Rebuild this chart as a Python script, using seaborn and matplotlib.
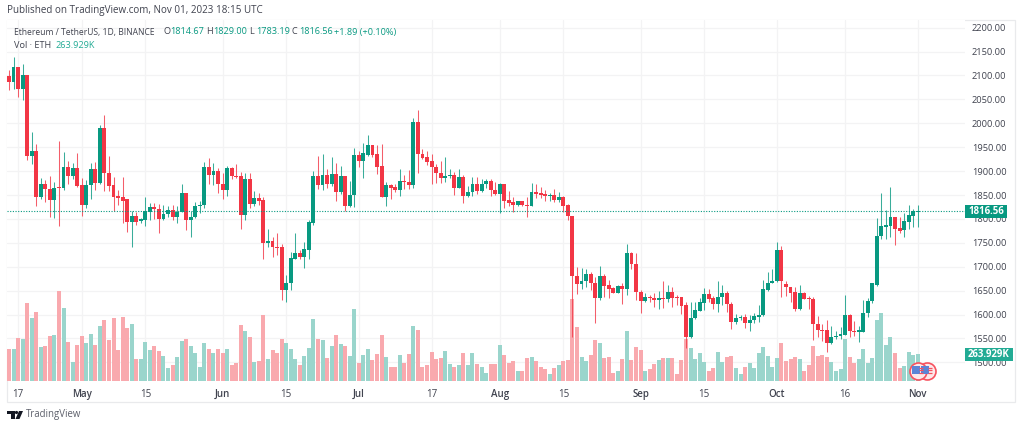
import pandas as pd
import matplotlib
matplotlib.use('Agg')
import matplotlib.pyplot as plt
import matplotlib.transforms as mtransforms
from matplotlib.patches import Rectangle, Polygon, Circle
import seaborn as sns

# ETH/USDT daily candles
opens = [2098,2087,2117,2072,2101,1932,1941,1846,1873,1862,
         1840,1866,1864,1908,1890,1906,1870,1829,1870,1904,
         1876,1991,1895,1870,1847,1846,1841,1793,1807,1796,
         1797,1815,1824,1821,1799,1810,1819,1805,1815,1854,
         1798,1805,1827,1830,1908,1892,1900,1873,1860,1906,
         1890,1889,1809,1884,1831,1844,1839,1750,1753,1742,
         1741,1651,1667,1717,1728,1720,1736,1791,1890,1871,
         1892,1873,1894,1857,1890,1826,1850,1934,1922,1934,
         1955,1936,1910,1845,1870,1866,1860,1880,1877,1871,
         2003,1936,1930,1921,1909,1897,1886,1890,1891,1864,
         1888,1848,1857,1872,1858,1872,1879,1860,1853,1873,
         1840,1835,1829,1837,1830,1828,1856,1854,1852,1847,
         1850,1839,1845,1829,1806,1681,1663,1670,1685,1667,
         1635,1681,1661,1655,1646,1660,1653,1729,1705,1647,
         1628,1637,1635,1631,1634,1633,1648,1637,1636,1619,
         1552,1592,1608,1625,1642,1634,1622,1637,1644,1623,
         1584,1592,1594,1582,1588,1595,1598,1651,1667,1670,
         1734,1663,1658,1647,1611,1646,1634,1633,1580,1568,
         1567,1540,1553,1555,1557,1599,1566,1564,1564,1604,
         1628,1662,1765,1784,1785,1803,1780,1776,1794,1807,
         1814.67]
closes = [2087,2117,2072,2101,1932,1941,1846,1873,1862,1840,
          1865,1864,1908,1890,1906,1869,1829,1870,1904,1876,
          1991,1895,1869,1846,1844,1838,1793,1807,1793,1799,
          1816,1824,1820,1799,1810,1819,1805,1815,1855,1798,
          1805,1827,1830,1908,1892,1900,1873,1860,1906,1890,
          1888,1809,1884,1831,1844,1838,1750,1753,1741,1739,
          1651,1667,1718,1728,1720,1737,1794,1890,1871,1892,
          1873,1894,1857,1890,1826,1851,1934,1922,1937,1955,
          1934,1908,1845,1870,1864,1860,1880,1877,1871,2003,
          1936,1928,1920,1909,1896,1886,1890,1891,1864,1887,
          1848,1857,1872,1858,1873,1879,1860,1853,1873,1838,
          1834,1829,1837,1829,1828,1856,1852,1851,1847,1850,
          1839,1845,1828,1806,1681,1663,1671,1685,1667,1635,
          1680,1660,1654,1646,1660,1653,1729,1705,1647,1628,
          1637,1635,1630,1634,1633,1648,1635,1635,1618,1554,
          1592,1610,1626,1642,1633,1622,1637,1644,1622,1584,
          1592,1594,1582,1589,1596,1599,1653,1667,1670,1734,
          1670,1657,1646,1611,1645,1633,1632,1580,1567,1566,
          1540,1553,1556,1559,1599,1566,1564,1567,1604,1629,
          1665,1765,1785,1787,1803,1779,1775,1796,1809,1817,
          1816.56]
highs = [2112,2139,2118,2124,2101,1982,1956,1886,1881,1890,
         1878,1963,1940,1922,1916,1938,1885,1881,1916,1918,
         1997,2017,1932,1888,1860,1888,1841,1817,1815,1801,
         1846,1834,1833,1831,1829,1827,1829,1827,1872,1855,
         1817,1836,1837,1919,1927,1916,1906,1895,1911,1909,
         1914,1899,1897,1897,1858,1855,1845,1778,1763,1770,
         1748,1683,1730,1770,1735,1752,1798,1901,1931,1936,
         1904,1929,1916,1911,1890,1879,1948,1943,1958,1975,
         1955,1955,1957,1878,1873,1872,1905,1892,1902,2010,
         2028,1946,1943,1935,1915,1921,1929,1905,1899,1905,
         1892,1869,1887,1887,1883,1883,1884,1877,1876,1874,
         1859,1845,1838,1838,1845,1876,1872,1866,1861,1855,
         1862,1856,1847,1831,1807,1699,1697,1695,1690,1679,
         1702,1684,1672,1657,1662,1665,1747,1731,1729,1651,
         1646,1641,1646,1649,1671,1662,1657,1641,1636,1627,
         1627,1627,1635,1655,1653,1639,1670,1662,1650,1627,
         1602,1599,1602,1598,1603,1620,1672,1688,1695,1752,
         1743,1670,1658,1658,1662,1648,1639,1637,1597,1580,
         1589,1576,1566,1574,1640,1601,1586,1575,1631,1634,
         1667,1801,1855,1819,1866,1805,1803,1813,1829,1820,
         1829.00]
lows = [2070,2072,2056,2049,1923,1915,1826,1842,1836,1805,
        1801,1785,1860,1873,1883,1866,1806,1823,1842,1860,
        1874,1859,1859,1817,1829,1792,1772,1741,1787,1791,
        1786,1798,1799,1771,1798,1805,1798,1792,1815,1777,
        1762,1801,1812,1822,1873,1871,1854,1842,1847,1883,
        1885,1779,1798,1822,1828,1829,1716,1741,1721,1725,
        1630,1627,1652,1716,1716,1698,1716,1788,1862,1860,
        1864,1869,1838,1853,1817,1824,1824,1908,1885,1932,
        1930,1894,1845,1826,1842,1856,1847,1863,1863,1864,
        1897,1925,1913,1873,1875,1876,1878,1885,1850,1864,
        1833,1846,1848,1853,1857,1864,1848,1851,1813,1822,
        1826,1815,1827,1827,1803,1826,1843,1843,1838,1838,
        1836,1835,1815,1798,1552,1643,1653,1658,1651,1582,
        1630,1637,1634,1644,1644,1623,1641,1695,1630,1604,
        1627,1627,1616,1611,1613,1627,1616,1620,1602,1530,
        1550,1591,1607,1610,1627,1611,1606,1620,1606,1570,
        1580,1588,1571,1566,1582,1584,1597,1650,1665,1669,
        1637,1639,1627,1608,1609,1632,1611,1547,1554,1545,
        1522,1538,1548,1549,1557,1552,1555,1543,1563,1594,
        1625,1660,1757,1759,1763,1745,1771,1763,1778,1783,
        1783.19]
# volume in thousands of ETH
volumes = [313,313,417,411,759,612,678,329,339,443,
           450,880,714,381,182,352,443,368,456,352,
           538,596,404,612,300,626,515,554,212,218,
           381,306,345,293,241,130,160,235,388,411,
           345,270,137,375,310,270,316,270,310,153,
           176,544,485,427,189,195,642,218,300,277,
           411,368,310,212,160,241,323,603,411,397,
           225,339,450,362,342,244,704,176,257,316,
           209,267,450,238,134,140,251,176,267,541,
           495,140,156,283,215,222,296,169,134,156,
           274,156,274,169,140,81,163,169,355,251,
           179,192,94,94,228,238,192,134,117,68,
           124,156,192,209,801,531,238,199,251,401,
           368,228,238,81,98,215,489,209,332,303,
           101,117,169,209,222,228,222,65,205,411,
           323,218,270,182,98,124,280,182,235,241,
           124,72,137,173,130,270,329,248,137,225,
           375,195,218,235,218,101,153,339,241,257,
           235,189,101,121,411,235,176,212,316,176,
           225,596,661,352,427,270,124,147,280,257,
           263.929]

start_date = '2023-04-15'
tick_dates = ['2023-04-17','2023-05-01','2023-05-15','2023-06-01','2023-06-15','2023-07-01','2023-07-17',
              '2023-08-01','2023-08-15','2023-09-01','2023-09-15','2023-10-01','2023-10-16','2023-11-01']
tick_labels = ['17','May','15','Jun','15','Jul','17','Aug','15','Sep','15','Oct','16','Nov']
price_ticks = [1500,1550,1600,1650,1700,1750,1800,1850,1900,1950,2000,2050,2100,2150,2200]
last_price = 1816.56

green = '#089981'
red = '#f23645'
text_col = '#40434f'

df = pd.DataFrame({'open': opens, 'high': highs, 'low': lows, 'close': closes, 'volume': volumes})
df['day'] = range(len(df))
df['direction'] = ['up' if c >= o else 'down' for o, c in zip(df['open'], df['close'])]
tick_pos = [(pd.Timestamp(d) - pd.Timestamp(start_date)).days for d in tick_dates]

sns.set_theme(style='white')
plt.rcParams['font.family'] = ['Open Sans', 'DejaVu Sans']

W, H = 1024, 429
fig = plt.figure(figsize=(W / 100, H / 100), dpi=100, facecolor='white')
# image pixel coordinates, y going down
px = mtransforms.Affine2D().scale(1, -1).translate(0, H)

pane = [7 / W, (H - 381) / H, (965 - 7) / W, (381 - 20) / H]
x_range = (-0.44, 210.4)
price_range = (1461, 2216)
vol_range = (0, 3529)

# grid and axis labels sit at the back
ax_grid = fig.add_axes(pane, zorder=1)
ax_grid.set_xlim(x_range)
ax_grid.set_ylim(price_range)
ax_grid.set_xticks(tick_pos)
ax_grid.set_xticklabels(tick_labels)
ax_grid.set_yticks(price_ticks)
ax_grid.set_yticklabels([f'{p:.2f}' for p in price_ticks])
ax_grid.yaxis.tick_right()
ax_grid.tick_params(axis='x', length=0, pad=5.5, labelsize=7, labelcolor=text_col)
ax_grid.tick_params(axis='y', length=0, pad=5, labelsize=6.7, labelcolor=text_col)
for lab in ax_grid.get_xticklabels():
    if not lab.get_text().isdigit():
        lab.set_fontweight(600)
ax_grid.grid(True, color='#f3f3f4', linewidth=0.9)
for s in ax_grid.spines.values():
    s.set_visible(False)
ax_grid.set_axisbelow(True)

# volume bars
ax_vol = fig.add_axes(pane, zorder=2)
ax_vol.patch.set_visible(False)
sns.barplot(data=df, x='day', y='volume', hue='direction', native_scale=True, dodge=False,
            palette={'up': '#9ad5cc', 'down': '#f9a9ae'}, saturation=1, width=0.88,
            errorbar=None, legend=False, ax=ax_vol)
for bar in ax_vol.patches:
    bar.set_linewidth(0)
ax_vol.set_xlim(x_range)
ax_vol.set_ylim(vol_range)
ax_vol.axis('off')

# candles on top
ax = fig.add_axes(pane, zorder=3)
ax.patch.set_visible(False)
ax.set_xlim(x_range)
ax.set_ylim(price_range)
ax.axis('off')
colors = [green if d == 'up' else red for d in df['direction']]
ax.vlines(df['day'], df['low'], df['high'], colors=colors, linewidth=0.75, alpha=0.8)
ax.bar(df['day'], (df['close'] - df['open']).abs().clip(lower=1.5),
       bottom=df[['open', 'close']].min(axis=1), width=0.86, color=colors, linewidth=0)
ax.axhline(last_price, color=green, linewidth=0.8, linestyle=(0, (1, 1.4)))

# event markers at the right end
for d, y0 in [(202, 1482), (200, 1482)]:
    ax.scatter([d], [y0], s=150, facecolor='#fde8ea', edgecolor='#f7525f', linewidth=1.2, zorder=5, clip_on=False)
    ax.scatter([d - 0.45], [y0 + 2.5], s=26, marker='s', facecolor='#5b84d6', linewidth=0, zorder=6)
    ax.hlines([y0 - 4, y0 + 1, y0 + 6], d + 0.2, d + 1.1, colors='#f7525f', linewidth=0.9, zorder=6)

# outer frame
fig.add_artist(Rectangle((7, 20), 1008, 382, transform=px, fill=False, edgecolor='#e9eaec', linewidth=0.9, zorder=0))

# price and volume labels on the scale
fig.add_artist(Rectangle((965, 205), 42, 13, transform=px, facecolor=green, edgecolor='none', zorder=5))
fig.text(986, 211.5, f'{last_price:.2f}', transform=px, color='white', fontsize=6.9, fontweight='bold',
         ha='center', va='center', zorder=6)
fig.add_artist(Rectangle((965, 348), 48, 13, transform=px, facecolor='#22ab94', edgecolor='none', zorder=5))
fig.text(989, 354.5, '263.929K', transform=px, color='white', fontsize=6.9, fontweight='bold',
         ha='center', va='center', zorder=6)

# header
fig.text(7, 11, 'Published on TradingView.com, Nov 01, 2023 18:15 UTC', transform=px, color=text_col,
         fontsize=7.15, va='center')
fig.text(14, 32, 'Ethereum / TetherUS, 1D, BINANCE', transform=px, color=text_col, fontsize=6.15, va='center')
for x, label, val in [(163, 'O', '1814.67'), (206, 'H', '1829.00'), (249, 'L', '1783.19'), (292, 'C', '1816.56')]:
    fig.text(x, 32, label, transform=px, color=text_col, fontsize=6.6, va='center')
    fig.text(x + 7, 32, val, transform=px, color=green, fontsize=6.6, va='center')
fig.text(334, 32, '+1.89 (+0.10%)', transform=px, color=green, fontsize=6.6, va='center')
fig.text(14, 45, 'Vol \u00b7 ETH', transform=px, color=text_col, fontsize=6.6, va='center')
fig.text(56, 45, '263.929K', transform=px, color='#22ab94', fontsize=6.6, va='center')

# footer logo
logo = '#131722'
fig.add_artist(Polygon([(7, 411), (15, 411), (15, 419), (11, 419), (11, 414), (7, 414)], transform=px,
                       facecolor=logo, edgecolor='none'))
fig.add_artist(Circle((16.5, 412.5), 1.6, transform=px, facecolor=logo, edgecolor='none'))
fig.add_artist(Polygon([(19, 411), (23, 411), (19.5, 419), (15.5, 419)], transform=px,
                       facecolor=logo, edgecolor='none'))
fig.text(26, 415, 'TradingView', transform=px, color='#5d606b', fontsize=6.9, va='center')

fig.savefig('out.png', dpi=100)
